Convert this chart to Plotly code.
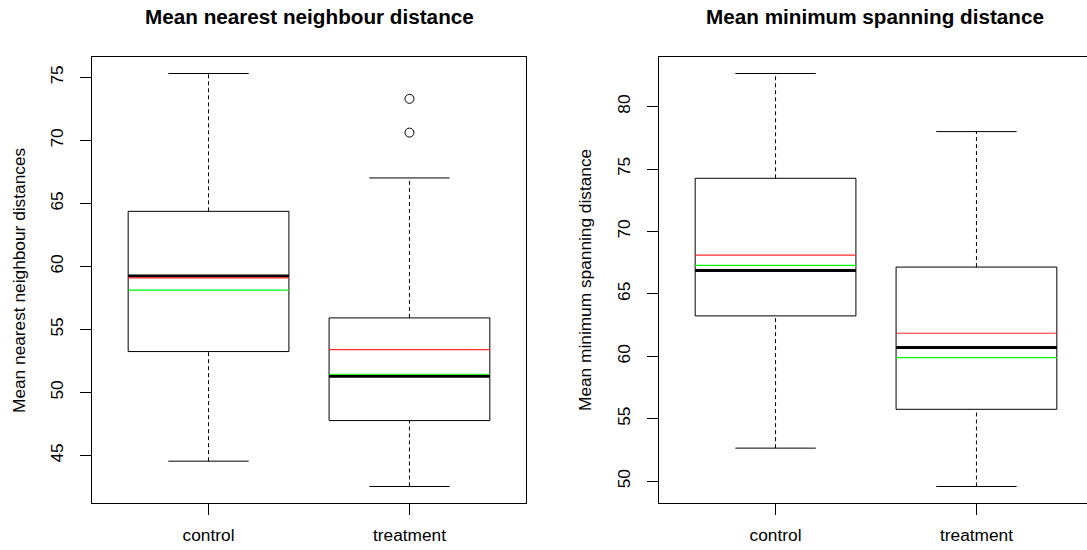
import plotly.graph_objects as go

# ---------------- data ----------------
categories = ["control", "treatment"]
positions = [1, 2]

# Panel 1: Mean nearest neighbour distance
nn_lower = [44.55, 42.54]
nn_q1 = [53.25, 47.77]
nn_median = [59.24, 51.29]
nn_q3 = [64.38, 55.92]
nn_upper = [75.32, 67.03]
nn_red = [59.10, 53.41]
nn_green = [58.12, 51.45]
nn_outliers = [[], [73.31, 70.63]]

# Panel 2: Mean minimum spanning distance
ms_lower = [52.65, 49.58]
ms_q1 = [63.24, 55.76]
ms_median = [66.88, 60.70]
ms_q3 = [74.26, 67.15]
ms_upper = [82.65, 78.00]
ms_red = [68.11, 61.85]
ms_green = [67.28, 59.90]
ms_outliers = [[], []]

titles = ["Mean nearest neighbour distance", "Mean minimum spanning distance"]
ytitles = ["Mean nearest neighbour distances", "Mean minimum spanning distance"]

# ---------------- style ----------------
W, H = 1087, 550
FONT = "Liberation Sans, Arial, Helvetica, sans-serif"
FS = 17.3
BOXW = 0.8
CAPW = 0.4
panel_px = [(92, 526), (659, 1087)]
PLOT_W = 434.0
top_px, bot_px = 57, 503

fig = go.Figure()


def add_panel(idx, lower, q1, med, q3, upper, red, green, outl):
    xa = "x" if idx == 0 else "x2"
    ya = "y" if idx == 0 else "y2"
    for i, c in enumerate(positions):
        h = BOXW / 2
        # box
        fig.add_trace(go.Scatter(x=[c - h, c + h, c + h, c - h, c - h],
                                 y=[q1[i], q1[i], q3[i], q3[i], q1[i]],
                                 mode="lines", line=dict(color="black", width=1),
                                 xaxis=xa, yaxis=ya, hoverinfo="skip"))
        # whiskers
        for a, b in [(q3[i], upper[i]), (lower[i], q1[i])]:
            fig.add_trace(go.Scatter(x=[c, c], y=[a, b], mode="lines",
                                     line=dict(color="black", width=1, dash="4px,3px"),
                                     xaxis=xa, yaxis=ya, hoverinfo="skip"))
        # caps
        for v in [upper[i], lower[i]]:
            fig.add_trace(go.Scatter(x=[c - CAPW / 2, c + CAPW / 2], y=[v, v], mode="lines",
                                     line=dict(color="black", width=1),
                                     xaxis=xa, yaxis=ya, hoverinfo="skip"))
        # median
        fig.add_trace(go.Scatter(x=[c - h, c + h], y=[med[i], med[i]], mode="lines",
                                 line=dict(color="black", width=3),
                                 xaxis=xa, yaxis=ya, hoverinfo="skip"))
        # red & green lines
        fig.add_trace(go.Scatter(x=[c - h, c + h], y=[red[i], red[i]], mode="lines",
                                 line=dict(color="#ff2a2a", width=1.2),
                                 xaxis=xa, yaxis=ya, hoverinfo="skip"))
        fig.add_trace(go.Scatter(x=[c - h, c + h], y=[green[i], green[i]], mode="lines",
                                 line=dict(color="#00ff00", width=1.2),
                                 xaxis=xa, yaxis=ya, hoverinfo="skip"))
        if outl[i]:
            fig.add_trace(go.Scatter(x=[c] * len(outl[i]), y=outl[i], mode="markers",
                                     marker=dict(symbol="circle-open", size=9,
                                                 color="black", line=dict(width=1)),
                                     xaxis=xa, yaxis=ya, hoverinfo="skip"))


add_panel(0, nn_lower, nn_q1, nn_median, nn_q3, nn_upper, nn_red, nn_green, nn_outliers)
add_panel(1, ms_lower, ms_q1, ms_median, ms_q3, ms_upper, ms_red, ms_green, ms_outliers)


def yrange(*arrs):
    vals = []
    for a in arrs:
        for v in a:
            if isinstance(v, list):
                vals.extend(v)
            else:
                vals.append(v)
    lo, hi = min(vals), max(vals)
    pad = 0.04 * (hi - lo)
    return [lo - pad, hi + pad]


yr1 = yrange(nn_lower, nn_upper, nn_outliers)
yr2 = yrange(ms_lower, ms_upper, ms_outliers)

x0, x1 = 0.42, 2.58
xr1 = [x0, x1]
xr2 = [x0, x0 + (x1 - x0) * (panel_px[1][1] - panel_px[1][0]) / PLOT_W]

ydom = [(H - bot_px) / H, (H - top_px) / H]

axis_common = dict(showgrid=False, zeroline=False, showline=True, linecolor="black",
                   linewidth=1, ticks="outside", ticklen=11, tickcolor="black",
                   tickwidth=1, tickfont=dict(family=FONT, size=FS, color="black"))

fig.update_layout(
    width=W, height=H, margin=dict(l=0, r=0, t=0, b=0),
    paper_bgcolor="white", plot_bgcolor="white", showlegend=False,
    font=dict(family=FONT, size=FS, color="black"),
    xaxis=dict(domain=[panel_px[0][0] / W, panel_px[0][1] / W], range=xr1,
               tickvals=positions, ticktext=categories, mirror=True,
               ticklabelstandoff=5, anchor="y", **axis_common),
    yaxis=dict(domain=ydom, range=yr1, dtick=5, tick0=0, tickangle=-90, mirror=True,
               ticklabelstandoff=10, anchor="x", **axis_common),
    xaxis2=dict(domain=[panel_px[1][0] / W, panel_px[1][1] / W], range=xr2,
                tickvals=positions, ticktext=categories, mirror=True,
                ticklabelstandoff=5, anchor="y2", **axis_common),
    yaxis2=dict(domain=ydom, range=yr2, dtick=5, tick0=0, tickangle=-90, mirror=False,
                ticklabelstandoff=10, anchor="x2", **axis_common),
)

# titles
title_centers = [(panel_px[0][0] + panel_px[0][1]) / 2, 875]
for i in range(2):
    fig.add_annotation(text="<b>" + titles[i] + "</b>", xref="paper", yref="paper",
                       x=title_centers[i] / W, y=(H - 17) / H, xanchor="center", yanchor="middle",
                       showarrow=False, font=dict(family=FONT, size=20.7, color="black"))

ytitle_x = [19, 585]
for i in range(2):
    fig.add_annotation(text=ytitles[i], xref="paper", yref="paper", textangle=-90,
                       x=ytitle_x[i] / W, y=(ydom[0] + ydom[1]) / 2, xanchor="center",
                       yanchor="middle", showarrow=False,
                       font=dict(family=FONT, size=FS, color="black"))

fig.write_html("out.html", config={"displayModeBar": False},
               post_script="document.body.style.margin='0';document.body.style.overflow='hidden';")
